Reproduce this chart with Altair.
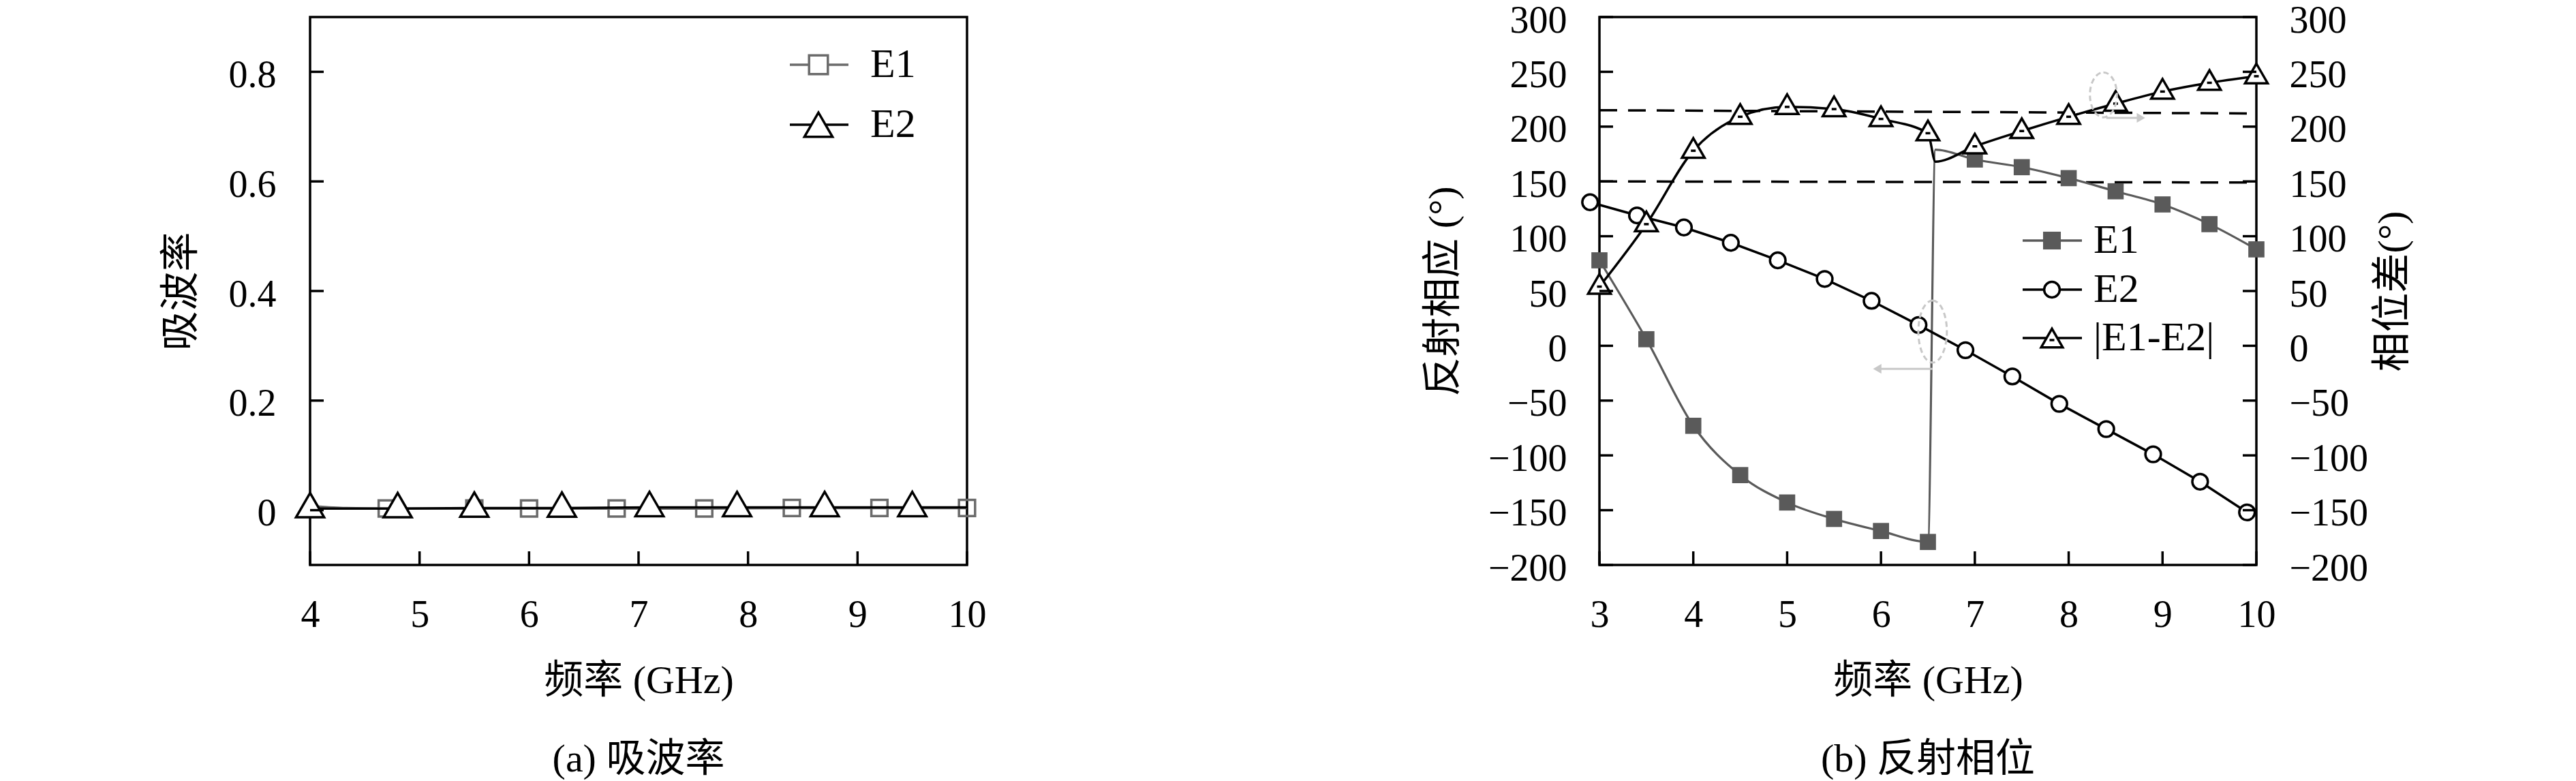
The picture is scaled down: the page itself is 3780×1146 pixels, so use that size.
import altair as alt
import pandas as pd

FONT = "Liberation Serif, Noto Sans CJK SC"
W, H = 964, 804

# ---------------- Panel (a) 吸波率 ----------------
a_x_ticks = [4, 5, 6, 7, 8, 9, 10]
a_y_ticks = [0.0, 0.2, 0.4, 0.6, 0.8]
a_e1_line_x = [4.0, 4.3, 4.7, 5.5, 6.0, 6.8, 7.6, 8.4, 9.2, 10.0]
a_e1_line_y = [0.008, 0.004, 0.003, 0.003, 0.003, 0.003, 0.003, 0.004, 0.004, 0.004]
a_e1_mark_x = [4.7, 5.5, 6.0, 6.8, 7.6, 8.4, 9.2, 10.0]
a_e1_mark_y = [0.003, 0.003, 0.003, 0.003, 0.003, 0.004, 0.004, 0.004]
a_e2_line_x = [4.0, 4.8, 5.5, 6.3, 7.1, 7.9, 8.7, 9.5, 10.0]
a_e2_line_y = [0.003, 0.003, 0.004, 0.004, 0.005, 0.005, 0.005, 0.005, 0.005]
a_e2_mark_x = [4.0, 4.8, 5.5, 6.3, 7.1, 7.9, 8.7, 9.5]
a_e2_mark_y = [0.003, 0.003, 0.004, 0.004, 0.005, 0.005, 0.005, 0.005]

# ---------------- Panel (b) 反射相位 ----------------
b_x_ticks = [3, 4, 5, 6, 7, 8, 9, 10]
b_y_ticks = [-200, -150, -100, -50, 0, 50, 100, 150, 200, 250, 300]
b_e1_line_x = [3.0, 3.5, 4.0, 4.5, 5.0, 5.5, 6.0, 6.5, 6.58, 7.0, 7.5, 8.0, 8.5, 9.0, 9.5, 10.0]
b_e1_line_y = [78, 6, -73, -118, -143, -158, -169, -179, 179, 170, 163, 153, 141, 129, 111, 88]
b_e1_mark_x = [3.0, 3.5, 4.0, 4.5, 5.0, 5.5, 6.0, 6.5, 7.0, 7.5, 8.0, 8.5, 9.0, 9.5, 10.0]
b_e1_mark_y = [78, 6, -73, -118, -143, -158, -169, -179, 170, 163, 153, 141, 129, 111, 88]
b_e2_x = [2.9, 3.4, 3.9, 4.4, 4.9, 5.4, 5.9, 6.4, 6.9, 7.4, 7.9, 8.4, 8.9, 9.4, 9.9]
b_e2_y = [131, 119, 108, 94, 78, 61, 41, 19, -4, -28, -53, -76, -99, -124, -152]
b_d_line_x = [3.0, 3.5, 4.0, 4.5, 5.0, 5.5, 6.0, 6.5, 6.58, 7.0, 7.5, 8.0, 8.5, 9.0, 9.5, 10.0]
b_d_line_y = [54, 111, 178, 209, 218, 216, 207, 194, 168, 182, 196, 209, 221, 232, 240, 246]
b_d_mark_x = [3.0, 3.5, 4.0, 4.5, 5.0, 5.5, 6.0, 6.5, 7.0, 7.5, 8.0, 8.5, 9.0, 9.5, 10.0]
b_d_mark_y = [54, 111, 178, 209, 218, 216, 207, 194, 182, 196, 209, 221, 232, 240, 246]
b_dash_x = [3.0, 10.0, 3.0, 10.0]
b_dash_y = [215, 212, 150, 149]
b_dash_g = ["upper", "upper", "lower", "lower"]
b_ell_x = [6.55, 8.37]
b_ell_y = [13, 229]
b_arrow_x = [6.55, 8.40]
b_arrow_x2 = [5.96, 8.77]
b_arrow_y = [-21, 208]

ELL1 = ("M0,-1 C0.254,-1 0.46,-0.552 0.46,0 C0.46,0.552 0.254,1 0,1 "
        "C-0.254,1 -0.46,0.552 -0.46,0 C-0.46,-0.552 -0.254,-1 0,-1 Z")
ELL2 = ("M0,-1 C0.331,-1 0.6,-0.552 0.6,0 C0.6,0.552 0.331,1 0,1 "
        "C-0.331,1 -0.6,0.552 -0.6,0 C-0.6,-0.552 -0.331,-1 0,-1 Z")
DOT = "M-1,-0.5 L1,-0.5 L1,0.5 L-1,0.5 Z"

GRAY_A = "#6b6b6b"
GRAY_B = "#5a5a5a"
ANN = "#c8c8c8"
one = pd.DataFrame({"k": [0]})


def df(x, y):
    return pd.DataFrame({"x": x, "y": y})


def legend_entry(xl0, xl1, xm, xt, y, label, line_color, mark, dot=False):
    layers = [
        alt.Chart(one).mark_rule(color=line_color, strokeWidth=3.5).encode(
            x=alt.value(xl0), x2=alt.value(xl1), y=alt.value(y)),
        alt.Chart(one).mark_point(**mark).encode(x=alt.value(xm), y=alt.value(y)),
    ]
    if dot:
        layers.append(alt.Chart(one).mark_point(shape=DOT, size=49, filled=True, color="black",
                                                opacity=1).encode(x=alt.value(xm), y=alt.value(y + 3)))
    layers.append(alt.Chart(one).mark_text(align="left", baseline="middle", font=FONT, fontSize=60,
                                           color="black", text=label).encode(x=alt.value(xt), y=alt.value(y)))
    return layers


# ---------------- build panel (a) ----------------
xs_a = alt.Scale(domain=[4, 10], nice=False, zero=False)
ys_a = alt.Scale(domain=[-0.1, 0.9], nice=False, zero=False)
xax_a = alt.Axis(values=a_x_ticks, format="d", title="频率 (GHz)", labelPadding=46, titlePadding=40,
                 labelFlush=False, labelOverlap=False)
yax_a = alt.Axis(values=a_y_ticks, format="~g", title="吸波率", labelPadding=50, titlePadding=40,
                 labelOverlap=False, labelOffset=5)


def xa():
    return alt.X("x:Q", scale=xs_a, axis=xax_a)


def ya():
    return alt.Y("y:Q", scale=ys_a, axis=yax_a)


a_layers = [
    alt.Chart(df(a_e1_line_x, a_e1_line_y)).mark_line(color=GRAY_A, strokeWidth=3.5, interpolate="monotone").encode(
        x=xa(), y=ya()),
    alt.Chart(df(a_e1_mark_x, a_e1_mark_y)).mark_point(shape="square", size=560, filled=False, color=GRAY_A,
                                                       strokeWidth=3.5, opacity=1).encode(x=xa(), y=ya()),
    alt.Chart(df(a_e2_line_x, a_e2_line_y)).mark_line(color="black", strokeWidth=3.5).encode(x=xa(), y=ya()),
    alt.Chart(df(a_e2_mark_x, a_e2_mark_y)).mark_point(shape="triangle-up", size=1700, filled=True, fill="white",
                                                       stroke="black", strokeWidth=3.5, opacity=1, yOffset=-5).encode(
        x=xa(), y=ya()),
    alt.Chart(pd.DataFrame({"y": a_y_ticks})).mark_rule(color="black", strokeWidth=3.5).encode(
        y=ya(), x=alt.value(0), x2=alt.value(20)),
    alt.Chart(pd.DataFrame({"x": a_x_ticks})).mark_rule(color="black", strokeWidth=3.5).encode(
        x=xa(), y=alt.value(H), y2=alt.value(H - 20)),
]
a_layers += legend_entry(704, 790, 746, 822, 70, "E1", GRAY_A,
                         dict(shape="square", size=760, filled=True, fill="white", stroke=GRAY_A,
                              strokeWidth=3.5, opacity=1))
a_layers += legend_entry(704, 790, 746, 822, 158, "E2", "black",
                         dict(shape="triangle-up", size=1700, filled=True, fill="white", stroke="black",
                              strokeWidth=3.5, opacity=1))

panel_a = alt.layer(*a_layers).properties(
    width=W, height=H,
    title=alt.TitleParams("(a) 吸波率", orient="bottom", anchor="middle", frame="group", offset=58,
                          font=FONT, fontSize=58, fontWeight="normal", color="black"))

# ---------------- build panel (b) ----------------
xs_b = alt.Scale(domain=[3, 10], nice=False, zero=False)
ys_b = alt.Scale(domain=[-200, 300], nice=False, zero=False)
xax_b = alt.Axis(values=b_x_ticks, format="d", title="频率 (GHz)", labelPadding=46, titlePadding=40,
                 labelFlush=False, labelOverlap=False)
yax_b = alt.Axis(values=b_y_ticks, format="d", title="反射相应 (°)", labelPadding=48, titlePadding=36,
                 labelOverlap=False, labelOffset=5)
yax_b_r = alt.Axis(values=b_y_ticks, format="d", title="相位差(°)", orient="right", labelPadding=48,
                   titlePadding=8, titleAngle=270, titleBaseline="top", labelOverlap=False, labelOffset=5)


def xb():
    return alt.X("x:Q", scale=xs_b, axis=xax_b)


def yb(ax=None):
    return alt.Y("y:Q", scale=ys_b, axis=ax)


b_layers = [
    alt.Chart(pd.DataFrame({"x": b_dash_x, "y": b_dash_y, "g": b_dash_g})).mark_line(
        color="black", strokeWidth=3.5, strokeDash=[26, 16]).encode(x=xb(), y=yb(yax_b), detail="g:N"),
    alt.Chart(df(b_e1_line_x, b_e1_line_y)).mark_line(color=GRAY_B, strokeWidth=3.2, interpolate="monotone").encode(
        x=xb(), y=yb()),
    alt.Chart(df(b_e1_mark_x, b_e1_mark_y)).mark_point(shape="square", size=560, filled=True, color=GRAY_B,
                                                       opacity=1).encode(x=xb(), y=yb()),
    alt.Chart(df(b_e2_x, b_e2_y)).mark_line(color="black", strokeWidth=3.5).encode(x=xb(), y=yb()),
    alt.Chart(df(b_e2_x, b_e2_y)).mark_point(shape="circle", size=520, filled=True, fill="white", stroke="black",
                                             strokeWidth=3.5, opacity=1).encode(x=xb(), y=yb()),
    alt.Chart(df(b_d_line_x, b_d_line_y)).mark_line(color="black", strokeWidth=3.5, interpolate="monotone").encode(
        x=xb(), y=yb(yax_b_r)),
    alt.Chart(df(b_d_mark_x, b_d_mark_y)).mark_point(shape="triangle-up", size=1100, filled=True, fill="white",
                                                     stroke="black", strokeWidth=3.5, opacity=1,
                                                     yOffset=-4).encode(x=xb(), y=yb()),
    alt.Chart(df(b_d_mark_x, b_d_mark_y)).mark_point(shape=DOT, size=49, filled=True, color="black",
                                                     opacity=1).encode(x=xb(), y=yb()),
    alt.Chart(df(b_ell_x[:1], b_ell_y[:1])).mark_point(shape=ELL1, size=8281, filled=False, color=ANN,
                                                       strokeWidth=3, strokeDash=[8, 5], opacity=1).encode(
        x=xb(), y=yb()),
    alt.Chart(df(b_ell_x[1:], b_ell_y[1:])).mark_point(shape=ELL2, size=4356, filled=False, color=ANN,
                                                       strokeWidth=3, strokeDash=[8, 5], opacity=1).encode(
        x=xb(), y=yb()),
    alt.Chart(pd.DataFrame({"x": b_arrow_x, "x2": b_arrow_x2, "y": b_arrow_y})).mark_rule(
        color=ANN, strokeWidth=3).encode(x=xb(), x2="x2:Q", y=yb()),
    alt.Chart(df(b_arrow_x2[:1], b_arrow_y[:1])).mark_point(shape="triangle-left", size=200, filled=True,
                                                            color=ANN, opacity=1).encode(x=xb(), y=yb()),
    alt.Chart(df(b_arrow_x2[1:], b_arrow_y[1:])).mark_point(shape="triangle-right", size=200, filled=True,
                                                            color=ANN, opacity=1).encode(x=xb(), y=yb()),
    alt.Chart(pd.DataFrame({"y": b_y_ticks})).mark_rule(color="black", strokeWidth=3.5).encode(
        y=yb(), x=alt.value(0), x2=alt.value(20)),
    alt.Chart(pd.DataFrame({"y": b_y_ticks})).mark_rule(color="black", strokeWidth=3.5).encode(
        y=yb(), x=alt.value(W - 20), x2=alt.value(W)),
    alt.Chart(pd.DataFrame({"x": b_x_ticks})).mark_rule(color="black", strokeWidth=3.5).encode(
        x=xb(), y=alt.value(H), y2=alt.value(H - 20)),
]
b_layers += legend_entry(621, 708, 664, 725, 328, "E1", GRAY_B,
                         dict(shape="square", size=680, filled=True, color=GRAY_B, opacity=1))
b_layers += legend_entry(621, 708, 664, 725, 400, "E2", "black",
                         dict(shape="circle", size=520, filled=True, fill="white", stroke="black",
                              strokeWidth=3.5, opacity=1))
b_layers += legend_entry(621, 708, 664, 725, 471, "|E1-E2|", "black",
                         dict(shape="triangle-up", size=1000, filled=True, fill="white", stroke="black",
                              strokeWidth=3.5, opacity=1), dot=True)

panel_b = alt.layer(*b_layers).resolve_axis(y="independent").properties(
    width=W, height=H,
    title=alt.TitleParams("(b) 反射相位", orient="bottom", anchor="middle", frame="group", offset=58,
                          font=FONT, fontSize=58, fontWeight="normal", color="black"))

chart = alt.hconcat(panel_a, panel_b, spacing=638).properties(
    padding={"left": 227, "top": -8, "right": 10, "bottom": 5},
    background="white",
).configure_axis(
    grid=False, domain=False, ticks=False, tickSize=0,
    labelFont=FONT, titleFont=FONT, labelFontSize=56, titleFontSize=58,
    titleFontWeight="normal", labelColor="black", titleColor="black",
).configure_view(stroke="black", strokeWidth=3.5)

chart.save("out.html", embed_options={"renderer": "svg", "actions": False})
